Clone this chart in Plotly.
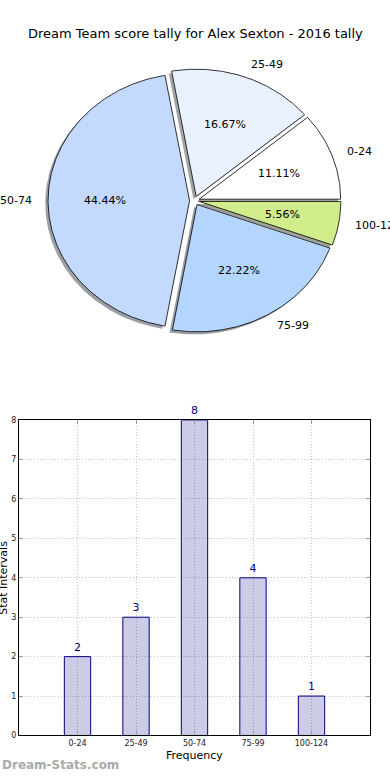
import numpy as np
import plotly.graph_objects as go

# ---------------- data ----------------
categories = ["0-24", "25-49", "50-74", "75-99", "100-124"]
counts = [2, 3, 8, 4, 1]
pie_colors = ["#ffffff", "#eaf1fe", "#c4d9fe", "#b4d5fe", "#d0ec8b"]
y_ticks = [0, 1, 2, 3, 4, 5, 6, 7, 8]
title_text = "Dream Team score tally for Alex Sexton - 2016 tally"

# ---------------- geometry / style ----------------
W, H = 390, 780
CX, CY = 194.5, 199.0      # pie centre in px
RX, RY = 141.5, 128.8      # pie radii in px (elliptical, like the original)
EXPLODE = 0.035
SHADOW = 0.02
FONT = "DejaVu Sans"

fig = go.Figure()

total = float(sum(counts))
fracs = [c / total for c in counts]
starts = np.concatenate([[0.0], np.cumsum(fracs)[:-1]]) * 360.0


def wedge(frac, start, dx=0.0, dy=0.0):
    span = frac * 360.0
    mid = np.radians(start + span / 2)
    ox = EXPLODE * np.cos(mid) + dx
    oy = EXPLODE * np.sin(mid) + dy
    t = np.radians(np.linspace(start, start + span, max(8, int(span * 2))))
    xs = np.concatenate([[ox], ox + np.cos(t), [ox]])
    ys = np.concatenate([[oy], oy + np.sin(t), [oy]])
    return xs, ys, ox, oy, mid


def hex_rgb(h):
    h = h.lstrip("#")
    return [int(h[i:i + 2], 16) for i in (0, 2, 4)]


# shadows
for f, s, col in zip(fracs, starts, pie_colors):
    xs, ys, *_ = wedge(f, s, -SHADOW, -SHADOW)
    r, g, b = [int(0.3 * v) for v in hex_rgb(col)]
    fig.add_trace(go.Scatter(x=xs, y=ys, mode="lines", fill="toself",
                             fillcolor=f"rgba({r},{g},{b},0.5)",
                             line=dict(width=0), hoverinfo="skip",
                             showlegend=False, xaxis="x2", yaxis="y2"))

annotations = []
for lab, f, s, col in zip(categories, fracs, starts, pie_colors):
    xs, ys, ox, oy, mid = wedge(f, s)
    fig.add_trace(go.Scatter(x=xs, y=ys, mode="lines", fill="toself",
                             fillcolor=col, line=dict(color="black", width=0.8),
                             hoverinfo="skip", showlegend=False,
                             xaxis="x2", yaxis="y2"))
    annotations.append(dict(
        x=ox + 0.6 * np.cos(mid), y=oy + 0.6 * np.sin(mid), xref="x2", yref="y2",
        text=f"{f * 100:.2f}%", showarrow=False,
        font=dict(family=FONT, size=11, color="black"),
        xanchor="center", yanchor="middle"))
    lx = ox + 1.1 * np.cos(mid)
    annotations.append(dict(
        x=lx, y=oy + 1.1 * np.sin(mid), xref="x2", yref="y2",
        text=lab, showarrow=False,
        font=dict(family=FONT, size=11, color="black"),
        xanchor="left" if lx > 0 else "right", yanchor="middle"))

# bar chart
fig.add_trace(go.Bar(x=categories, y=counts, width=0.45,
                     marker=dict(color="rgba(0,0,128,0.2)",
                                 line=dict(color="#000080", width=1)),
                     text=[str(c) for c in counts], textposition="outside",
                     textfont=dict(family=FONT, size=11, color="#000080"),
                     cliponaxis=False, showlegend=False, hoverinfo="skip"))

# pie axes (hidden), px -> data mapping
x2_range = [(0 - CX) / RX, (W - CX) / RX]
y2_range = [(CY - 390) / RY, (CY - 0) / RY]

# bar axes domain in px
bx0, bx1 = 19, 370
by0, by1 = 421, 740

annotations += [
    dict(x=0.5, y=1 - 30 / H, xref="paper", yref="paper", text=title_text,
         showarrow=False, font=dict(family=FONT, size=13, color="black"),
         xanchor="center", yanchor="middle"),
    dict(x=(bx0 + bx1) / 2 / W, y=1 - 760 / H, xref="paper", yref="paper",
         text="Frequency", showarrow=False,
         font=dict(family=FONT, size=11, color="black"),
         xanchor="center", yanchor="middle"),
    dict(x=4 / W, y=1 - (by0 + by1) / 2 / H, xref="paper", yref="paper",
         text="Stat Intervals", showarrow=False, textangle=-90,
         font=dict(family=FONT, size=11, color="black"),
         xanchor="center", yanchor="middle"),
    dict(x=0, y=1 - 770 / H, xref="paper", yref="paper",
         text="<b>Dream-Stats.com</b>", showarrow=False,
         font=dict(family=FONT, size=12, color="#aaaaaa"),
         xanchor="left", yanchor="middle"),
]

grid = dict(showgrid=True, gridcolor="#c4c4c4", griddash="1px,2px", gridwidth=1,
            zeroline=False, showline=True, linecolor="black", linewidth=1,
            mirror="ticks", ticks="inside", ticklen=4, tickcolor="#999999",
            tickfont=dict(family=FONT, size=8, color="#222222"))

fig.update_layout(
    width=W, height=H, margin=dict(l=0, r=0, t=0, b=0),
    paper_bgcolor="white", plot_bgcolor="rgba(0,0,0,0)",
    xaxis=dict(domain=[bx0 / W, bx1 / W], type="category", range=[-1, 5],
               **grid),
    yaxis=dict(domain=[1 - by1 / H, 1 - by0 / H], range=[0, 8],
               tickvals=y_ticks, **grid),
    xaxis2=dict(domain=[0, 1], range=x2_range, visible=False,
                anchor="y2", fixedrange=True),
    yaxis2=dict(domain=[0.5, 1], range=y2_range, visible=False,
                anchor="x2", fixedrange=True),
    annotations=annotations,
    font=dict(family=FONT),
)

fig.write_html("out.html",
               config={"displayModeBar": False},
               post_script="document.body.style.margin='0';"
                           "document.body.style.padding='0';")
